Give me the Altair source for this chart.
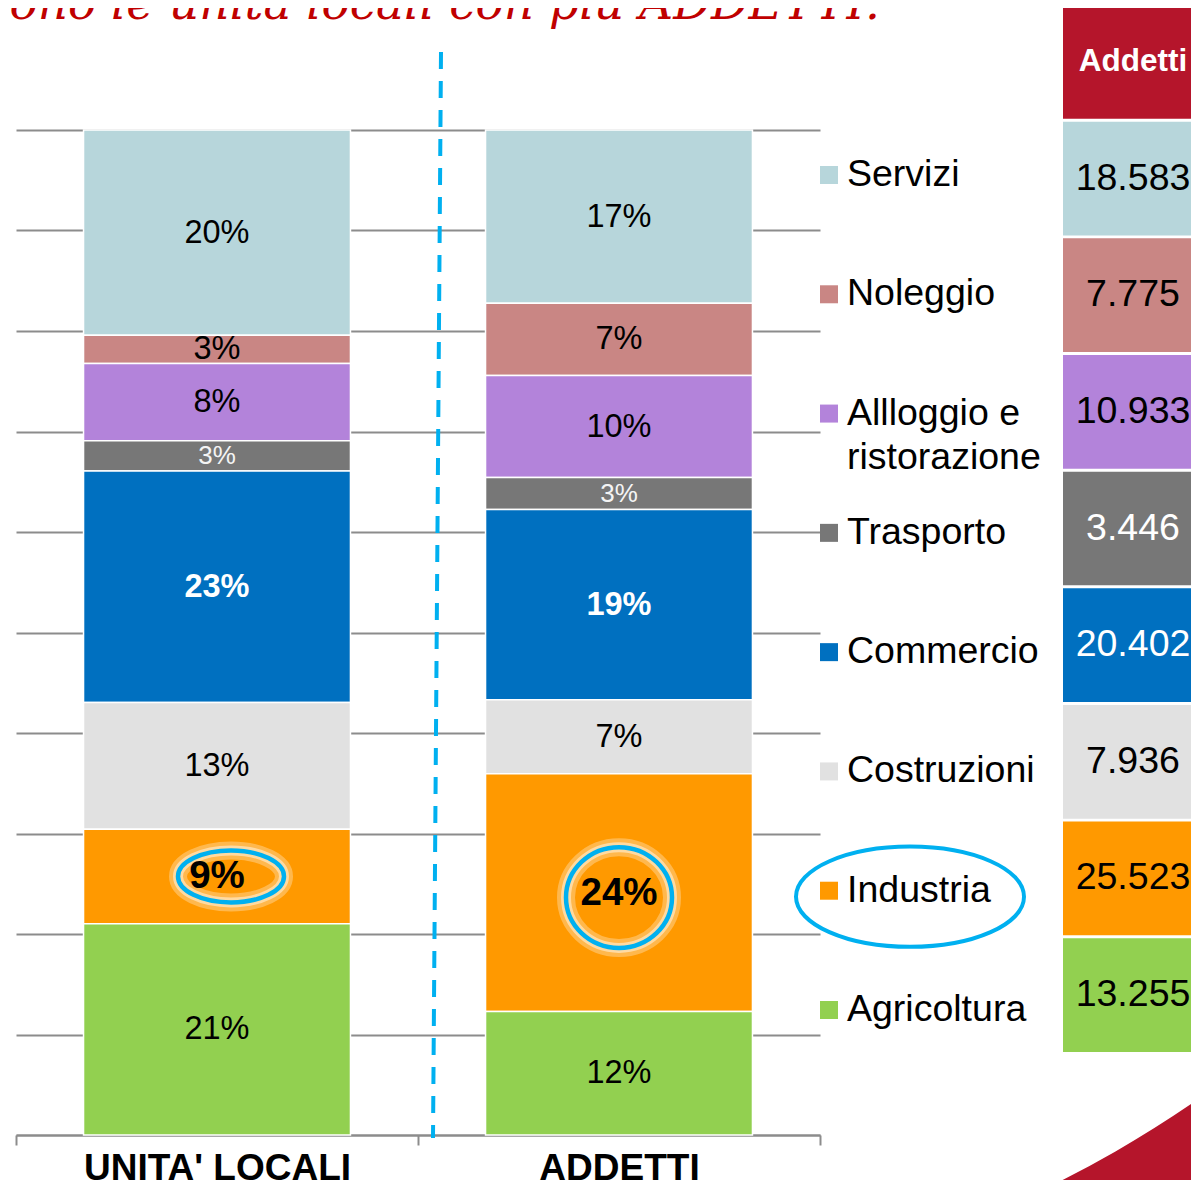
import altair as alt
import pandas as pd

# ---------------- data ----------------
categories = ["Servizi", "Noleggio", "Allloggio e ristorazione", "Trasporto",
              "Commercio", "Costruzioni", "Industria", "Agricoltura"]
legend_labels = ["Servizi", "Noleggio", "Allloggio e\nristorazione", "Trasporto",
                 "Commercio", "Costruzioni", "Industria", "Agricoltura"]
colors = ["#B7D6DB", "#C98684", "#B383DA", "#777777",
          "#0070C0", "#E1E1E1", "#FF9900", "#92D050"]
groups = ["UNITA' LOCALI", "ADDETTI"]
unita_locali_pct = [20.4, 2.8, 7.7, 3.0, 23.0, 12.6, 9.4, 21.0]
addetti = [18583, 7775, 10933, 3446, 20402, 7936, 25523, 13255]
table_header = "Addetti"
title_text = "sono le unità locali con più ADDETTI."

RED = "#B5152B"
TITLE_RED = "#C00000"
CYAN = "#00B0F0"
GRID = "#8C8C8C"
FONT = "Liberation Sans"

rows = []
n = len(categories)
for i, c in enumerate(categories):
    rows.append({"group": groups[0], "cat": c, "value": unita_locali_pct[i], "order": n - 1 - i})
    rows.append({"group": groups[1], "cat": c, "value": addetti[i], "order": n - 1 - i})
bars_df = pd.DataFrame(rows)

legend_df = pd.DataFrame({"cat": categories, "label": legend_labels})
table_rows = [table_header] + categories
table_df = pd.DataFrame({"row": categories, "v": addetti})
header_df = pd.DataFrame({"row": [table_header]})

W_PLOT, H_PLOT = 804, 1005
W_TOT, H_TOT = 1183, 1172
PAD = {"left": 8, "top": 122, "right": W_TOT - 8 - W_PLOT, "bottom": H_TOT - 122 - H_PLOT}
HALF_BAND = W_PLOT / 4  # centre of a band when xOffset is used

color_scale = alt.Scale(domain=categories, range=colors)

# ---------------- bars ----------------
base = (
    alt.Chart(bars_df)
    .transform_joinaggregate(total="sum(value)", groupby=["group"])
    .transform_calculate(pct="datum.value / datum.total")
    .transform_stack(stack="pct", groupby=["group"],
                     sort=[alt.SortField("order", order="ascending")], as_=["y0", "y1"])
    .transform_calculate(mid="(datum.y0 + datum.y1) / 2",
                         lab="format(datum.pct, '.0%')")
)

x_enc = alt.X("group:N", sort=groups,
              scale=alt.Scale(domain=groups, paddingInner=0, paddingOuter=0),
              axis=alt.Axis(title=None, labelFont=FONT, labelFontWeight="bold",
                            labelFontSize=37, labelColor="black", labelPadding=5,
                            labelLimit=0,
                            tickSize=10, tickWidth=2, tickColor=GRID,
                            domainColor=GRID, domainWidth=2, tickBand="extent",
                            labelAngle=0, grid=False))
yq = alt.Scale(domain=[0, 1])

bars = base.mark_bar(width=alt.RelativeBandSize(0.664), stroke="white", strokeWidth=1.5).encode(
    x=x_enc,
    y=alt.Y("y0:Q", scale=yq,
            axis=alt.Axis(values=[i / 10 for i in range(11)], labels=False, ticks=False,
                          domain=False, grid=True, gridColor=GRID, gridWidth=2, title=None)),
    y2="y1:Q",
    color=alt.Color("cat:N", scale=color_scale, legend=None),
)

reg_text = base.transform_filter(
    "datum.cat != 'Commercio' && datum.cat != 'Industria'"
).mark_text(font=FONT, baseline="middle").encode(
    x=alt.X("group:N", sort=groups),
    y=alt.Y("mid:Q", scale=yq, axis=None),
    text="lab:N",
    color=alt.condition("datum.cat == 'Trasporto'", alt.value("#F4F4F4"), alt.value("black")),
    size=alt.condition("datum.cat == 'Trasporto'", alt.value(26), alt.value(32.5)),
)

bold_text = base.transform_filter(
    "datum.cat == 'Commercio' || datum.cat == 'Industria'"
).mark_text(font=FONT, fontWeight="bold", baseline="middle").encode(
    x=alt.X("group:N", sort=groups),
    y=alt.Y("mid:Q", scale=yq, axis=None),
    text="lab:N",
    color=alt.condition("datum.cat == 'Commercio'", alt.value("white"), alt.value("black")),
    size=alt.condition("datum.cat == 'Commercio'", alt.value(32.5), alt.value(38.5)),
)

ELLIPSE_L = "M -1 0 A 1 0.49 0 1 0 1 0 A 1 0.49 0 1 0 -1 0 Z"
CIRCLE_R = "M -1 0 A 1 0.95 0 1 0 1 0 A 1 0.95 0 1 0 -1 0 Z"

def ring(group, shape, size, dx, dy):
    layers = []
    src = base.transform_filter(f"datum.cat == 'Industria' && datum.group == \"{group}\"")
    for sw, op, col in [(18, 0.35, "#FFF3DC"), (10, 0.55, "#FFF6E6"), (4.5, 1, CYAN)]:
        layers.append(src.mark_point(shape=shape, filled=False, strokeWidth=sw,
                                     opacity=op, color=col, size=size).encode(
            x=alt.X("group:N", sort=groups),
            y=alt.Y("mid:Q", scale=yq, axis=None),
            xOffset=alt.value(HALF_BAND + dx), yOffset=alt.value(dy)))
    return layers

rings = ring(groups[0], ELLIPSE_L, 106 * 106, 14, 0) + ring(groups[1], CIRCLE_R, 106 * 106, 0, 5)

divider = alt.Chart(pd.DataFrame({"d": [0]})).mark_rule(
    color=CYAN, strokeWidth=4, strokeDash=[17, 12]
).encode(x=alt.value(425), x2=alt.value(417), y=alt.value(-78), y2=alt.value(1008))

# ---------------- legend ----------------
leg_y = alt.Y("cat:N", scale=alt.Scale(type="point", domain=categories, range=[45, 880], padding=0),
              axis=None)
leg_sq = alt.Chart(legend_df).mark_square(size=324, opacity=1).encode(
    x=alt.value(813), y=leg_y, color=alt.Color("cat:N", scale=color_scale, legend=None))
leg_tx = alt.Chart(legend_df).mark_text(font=FONT, fontSize=37.5, align="left", baseline="middle",
                                        lineBreak="\n", lineHeight=44, color="black").encode(
    x=alt.value(831), y=leg_y, text="label:N")
ELLIPSE_LEG = "M -1 0 A 1 0.44 0 1 0 1 0 A 1 0.44 0 1 0 -1 0 Z"
leg_ring = alt.Chart(legend_df).transform_filter("datum.cat == 'Industria'").mark_point(
    shape=ELLIPSE_LEG, filled=False, strokeWidth=4, color=CYAN, size=228 * 228, opacity=1
).encode(x=alt.value(894), y=leg_y, yOffset=alt.value(6))

# ---------------- table ----------------
tab_scale = alt.Scale(type="band", domain=table_rows, range=[-125, 922],
                      paddingInner=0.025, paddingOuter=0)
tab_y = alt.Y("row:N", scale=tab_scale, axis=None)
tab_rect = alt.Chart(table_df).mark_rect().encode(
    x=alt.value(1047), x2=alt.value(1200), y=tab_y,
    color=alt.Color("row:N", scale=color_scale, legend=None))
tab_text = alt.Chart(table_df).transform_calculate(
    lab="replace(format(datum.v, ','), ',', '.')"
).mark_text(font=FONT, fontSize=37.5, baseline="middle").encode(
    x=alt.value(1117), y=tab_y, text="lab:N",
    color=alt.condition("datum.row == 'Trasporto' || datum.row == 'Commercio'",
                        alt.value("white"), alt.value("black")))
head_rect = alt.Chart(header_df).mark_rect(color=RED).encode(
    x=alt.value(1047), x2=alt.value(1200), y=tab_y)
head_text = alt.Chart(header_df).mark_text(font=FONT, fontSize=31.5, fontWeight="bold",
                                           color="white", baseline="middle").encode(
    x=alt.value(1117), y=tab_y, text="row:N")

# ---------------- decorations ----------------
title = alt.Chart(pd.DataFrame({"t": [title_text]})).mark_text(
    align="right", baseline="alphabetic", font="DejaVu Serif", fontStyle="italic",
    fontSize=47, color=TITLE_RED).encode(x=alt.value(864), y=alt.value(-111), text="t:N")

swoosh = alt.Chart(pd.DataFrame({"s": [0]})).mark_arc(
    innerRadius=1155, outerRadius=1450, theta=2.27, theta2=2.97, color=RED
).encode(x=alt.value(524), y=alt.value(20))

chart = alt.layer(
    bars, divider, *rings, reg_text, bold_text,
    leg_sq, leg_tx, leg_ring,
    head_rect, head_text, tab_rect, tab_text,
    title, swoosh,
).resolve_scale(y="independent", color="shared").properties(
    width=W_PLOT, height=H_PLOT, padding=PAD,
    autosize=alt.AutoSizeParams(type="none"),
    background="white",
).configure_view(stroke=None)

chart.save("out.html", embed_options={"renderer": "svg", "actions": False})
